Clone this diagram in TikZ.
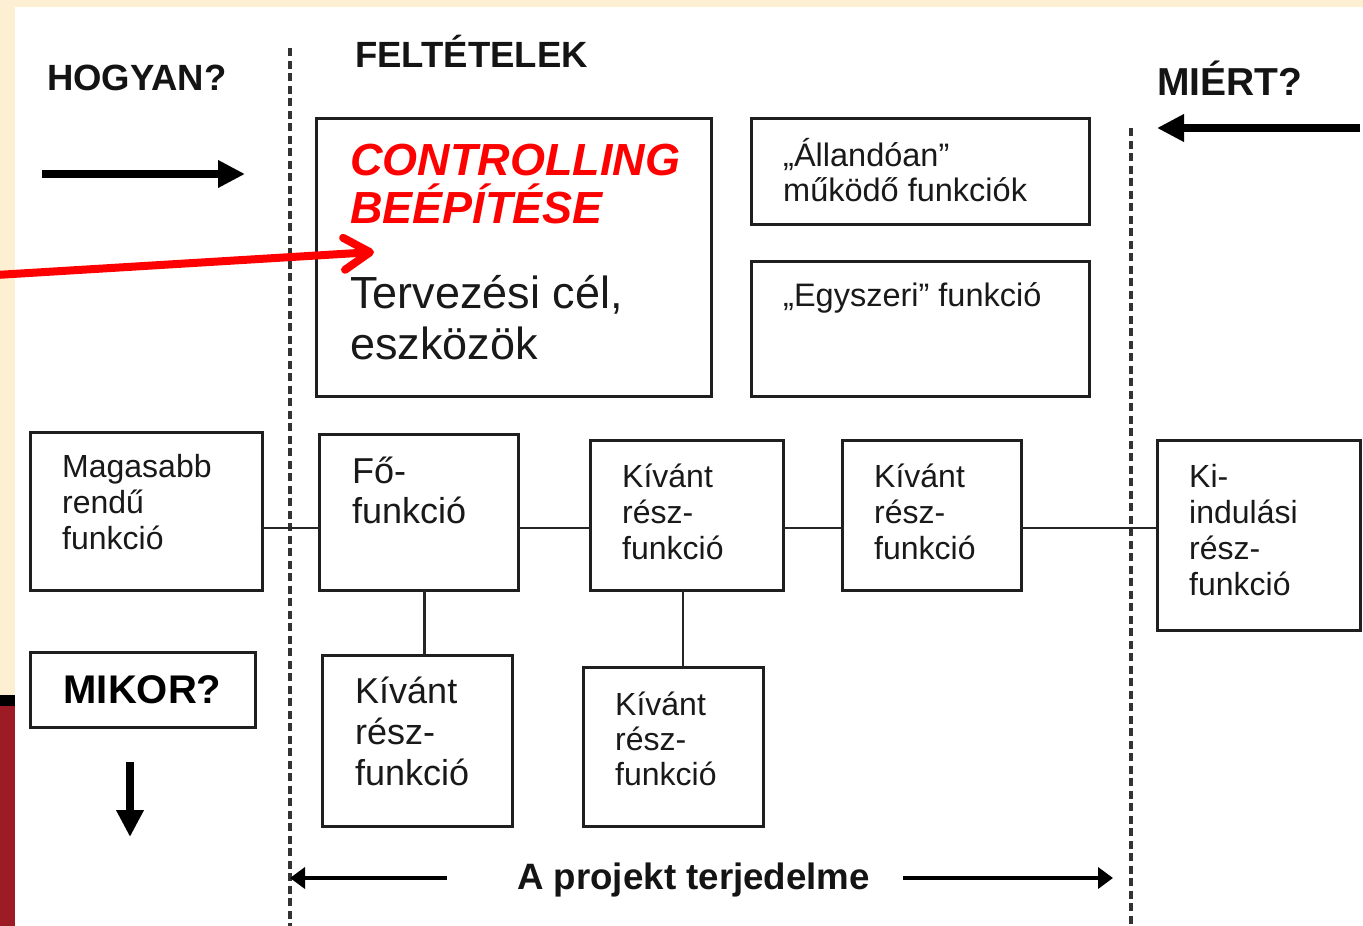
\documentclass[tikz,border=0pt]{standalone}
\usepackage{fontspec}
\setmainfont{Liberation Sans}
\usetikzlibrary{arrows.meta}
\definecolor{slidecream}{HTML}{FCEFD2}
\definecolor{slidered}{HTML}{9C1B24}
\newcommand{\tp}{\rule{0pt}{1em}}
\begin{document}
\begin{tikzpicture}[x=1pt,y=-1pt,
  box/.style={draw=black!88, line width=3pt, inner sep=0pt, outer sep=0pt, anchor=north west},
  txt/.style={anchor=north west, inner sep=0pt, align=left, text=black!90},
  head/.style={anchor=base west, inner sep=0pt, text=black!92},
  link/.style={draw=black!85, line width=2.5pt},
  fatarrow/.style={line width=8pt, -{Triangle[length=27pt,width=26pt]}},
  spanarrow/.style={line width=4.5pt, -{Triangle[length=15pt,width=21pt]}},
  border/.style={draw=black!80, line width=3.5pt, dash pattern=on 8pt off 4.5pt}]
% slide background
\fill[slidecream] (0,0) rectangle (1363,926);
\fill[white] (15,7) rectangle (1363,926);
\fill[black] (0,695) rectangle (15,706);
\fill[slidered] (0,706) rectangle (15,926);
\useasboundingbox (0,0) rectangle (1363,926);
% scope borders
\coordinate (lb-top) at (290,48);
\coordinate (lb-bot) at (290,926);
\coordinate (rb-top) at (1131,128);
\coordinate (rb-bot) at (1131,926);
\draw[border] (lb-top) -- (lb-bot);
\draw[border] (rb-top) -- (rb-bot);
% headings
\node[head, font=\fontsize{36.5}{40}\selectfont\bfseries] (hogyan) at (47,90) {HOGYAN?};
\node[head, font=\fontsize{36.5}{40}\selectfont\bfseries] (feltetel) at (355,67) {FELTÉTELEK};
\node[head, font=\fontsize{39}{43}\selectfont\bfseries] (miert) at (1157,95) {MIÉRT?};
\node[head, font=\fontsize{36.7}{40}\selectfont\bfseries] (terj) at (517,889) {A projekt terjedelme};
\node[box, minimum width=225pt, minimum height=75pt, font=\fontsize{40}{44}\selectfont\bfseries] (mikor) at (30,652) {MIKOR?};
% upper boxes
\node[box, minimum width=395pt, minimum height=278pt] (ctrl) at (316,118) {};
\node[box, minimum width=338pt, minimum height=106pt] (alland) at (751,118) {};
\node[box, minimum width=338pt, minimum height=135pt] (egysz) at (751,261) {};
\node[txt, font=\fontsize{45}{48}\selectfont\bfseries\itshape, text=red] (ctrl-t) at ([shift={(34,12)}]ctrl.north west) {\tp CONTROLLING\\BEÉPÍTÉSE};
\node[txt, font=\fontsize{45}{51}\selectfont] (terv-t) at ([shift={(34,145)}]ctrl.north west) {\tp Tervezési cél,\\eszközök};
\node[txt, font=\fontsize{32.5}{35}\selectfont] (alland-t) at ([shift={(32,15.5)}]alland.north west) {\tp „Állandóan”\\működő funkciók};
\node[txt, font=\fontsize{32.5}{35}\selectfont] (egysz-t) at ([shift={(32,12.5)}]egysz.north west) {\tp „Egyszeri” funkció};
% function boxes
\node[box, minimum width=232pt, minimum height=158pt] (mag) at (30,432) {};
\node[box, minimum width=199pt, minimum height=156pt] (fo) at (319,434) {};
\node[box, minimum width=193pt, minimum height=150pt] (k1) at (590,440) {};
\node[box, minimum width=179pt, minimum height=150pt] (k2) at (842,440) {};
\node[box, minimum width=203pt, minimum height=190pt] (kiind) at (1157,440) {};
\node[box, minimum width=190pt, minimum height=171pt] (fosub) at (322,655) {};
\node[box, minimum width=180pt, minimum height=159pt] (k1sub) at (583,667) {};
\node[txt, font=\fontsize{32}{36}\selectfont] (mag-t) at ([shift={(32,13)}]mag.north west) {\tp Magasabb\\rendű\\funkció};
\node[txt, font=\fontsize{36}{40}\selectfont] (fo-t) at ([shift={(33,13)}]fo.north west) {\tp Fő-\\funkció};
\node[txt, font=\fontsize{32}{36}\selectfont] (k1-t) at ([shift={(32,15)}]k1.north west) {\tp Kívánt\\rész-\\funkció};
\node[txt, font=\fontsize{32}{36}\selectfont] (k2-t) at ([shift={(32,15)}]k2.north west) {\tp Kívánt\\rész-\\funkció};
\node[txt, font=\fontsize{32}{36}\selectfont] (kiind-t) at ([shift={(32,15)}]kiind.north west) {\tp Ki-\\indulási\\rész-\\funkció};
\node[txt, font=\fontsize{36}{41}\selectfont] (fosub-t) at ([shift={(33,12)}]fosub.north west) {\tp Kívánt\\rész-\\funkció};
\node[txt, font=\fontsize{32}{35}\selectfont] (k1sub-t) at ([shift={(32,16)}]k1sub.north west) {\tp Kívánt\\rész-\\funkció};
% links
\coordinate (lnk) at (0,528);
\draw[link] (mag.east |- lnk) -- (fo.west |- lnk);
\draw[link] (fo.east |- lnk) -- (k1.west |- lnk);
\draw[link] (k1.east |- lnk) -- (k2.west |- lnk);
\draw[link] (k2.east |- lnk) -- (kiind.west |- lnk);
\draw[link] ([xshift=6pt]fo.south) -- ([xshift=6pt]fo.south |- fosub.north);
\draw[link] ([xshift=-3.5pt]k1.south) -- ([xshift=-3.5pt]k1.south |- k1sub.north);
% direction arrows
\coordinate (hg-s) at (42,174);
\coordinate (hg-e) at (245,174);
\coordinate (mi-s) at (1360,128);
\coordinate (mi-e) at (1157,128);
\coordinate (mk-s) at (130,762);
\coordinate (mk-e) at (130,837);
\coordinate (tj-l) at (447,878);
\coordinate (tj-r) at (903,878);
\draw[fatarrow] (hg-s) -- (hg-e);
\draw[fatarrow] (mi-s) -- (mi-e);
\draw[fatarrow] (mk-s) -- (mk-e);
\draw[spanarrow] (tj-l) -- (lb-top |- tj-l);
\draw[spanarrow] (tj-r) -- ([xshift=-18pt]rb-top |- tj-r);
% red pointer
\coordinate (red-s) at (-4,275);
\coordinate (red-e) at (374,252);
\draw[red, line width=8pt, -{Straight Barb[length=26pt,width=32pt,round]}] (red-s) -- (red-e);
\end{tikzpicture}
\end{document}
